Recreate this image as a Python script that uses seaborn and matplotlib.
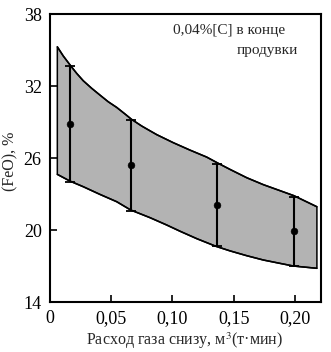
import numpy as np
import matplotlib
matplotlib.use("Agg")
import matplotlib.pyplot as plt
import seaborn as sns
import pandas as pd

# Data
pt_x = [0.0165, 0.066, 0.136, 0.199]
pt_mean = [28.83, 25.42, 22.08, 19.92]
pt_hi = [33.7, 29.2, 25.47, 22.78]
pt_lo = [24.03, 21.6, 18.67, 17.03]

upper_x = [0.006, 0.0109, 0.0169, 0.0218, 0.0272, 0.0341, 0.0408, 0.0476, 0.0545, 0.0613,
           0.0667, 0.0749, 0.0817, 0.0872, 0.1007, 0.1144, 0.128, 0.1367, 0.1471, 0.1607,
           0.1743, 0.1879, 0.1993, 0.218]
upper_y = [35.27, 34.5, 33.69, 33.06, 32.44, 31.81, 31.25, 30.69, 30.22, 29.67,
           29.22, 28.67, 28.27, 27.95, 27.28, 26.66, 26.08, 25.6, 25.05, 24.36,
           23.78, 23.28, 22.86, 21.94]
lower_x = [0.006, 0.0163, 0.0272, 0.0408, 0.0545, 0.0659, 0.0817, 0.0953, 0.1062, 0.1199,
           0.1356, 0.1471, 0.1607, 0.1743, 0.1879, 0.1988, 0.218]
lower_y = [24.64, 24.08, 23.61, 22.97, 22.36, 21.67, 21.03, 20.42, 19.9, 19.28,
           18.64, 18.26, 17.86, 17.5, 17.22, 17.0, 16.81]

x_ticks = [0, 0.05, 0.10, 0.15, 0.20]
x_ticklabels = ["0", "0,05", "0,10", "0,15", "0,20"]
y_ticks = [14, 20, 26, 32, 38]

sns.set_style("ticks")
plt.rcParams['font.family'] = ['Liberation Serif', 'DejaVu Serif']
plt.rcParams['mathtext.fontset'] = 'stix'

fig = plt.figure(figsize=(3.31, 3.52), dpi=100)
ax = fig.add_axes([0.151, 0.142, 0.819, 0.818])

poly_x = list(upper_x) + list(lower_x[::-1])
poly_y = list(upper_y) + list(lower_y[::-1])
ax.fill(poly_x, poly_y, facecolor="#b3b3b3", edgecolor="black", linewidth=1.1,
        joinstyle="round", zorder=1)

df_up = pd.DataFrame({"x": upper_x, "y": upper_y})
df_lo = pd.DataFrame({"x": lower_x, "y": lower_y})
sns.lineplot(data=df_up, x="x", y="y", ax=ax, color="black", linewidth=1.1, sort=False, zorder=2)
sns.lineplot(data=df_lo, x="x", y="y", ax=ax, color="black", linewidth=1.1, sort=False, zorder=2)

yerr = [np.array(pt_mean) - np.array(pt_lo), np.array(pt_hi) - np.array(pt_mean)]
ax.errorbar(pt_x, pt_mean, yerr=yerr, fmt="none", ecolor="black", elinewidth=1.5,
            capsize=3.5, capthick=1.3, zorder=3)
df_pt = pd.DataFrame({"x": pt_x, "y": pt_mean})
sns.scatterplot(data=df_pt, x="x", y="y", ax=ax, color="black", s=24, edgecolor="black", zorder=4)

ax.set_xlim(0, 0.2214)
ax.set_ylim(14, 38)
ax.set_xticks(x_ticks)
ax.set_xticklabels(x_ticklabels)
ax.set_yticks(y_ticks)
ax.tick_params(direction="in", length=5, width=1.2, labelsize=13, colors="black", pad=6,
               top=False, right=False)
for s in ax.spines.values():
    s.set_visible(True)
    s.set_linewidth(1.5)
    s.set_color("black")

ax.set_xlabel("Расход газа снизу, м$^3$(т·мин)", fontsize=11.5)
ax.set_ylabel("(FeO), %", fontsize=11.5)
ax.xaxis.set_label_coords(0.498, -0.10)
ax.yaxis.set_label_coords(-0.115, 0.49)

ax.text(0.455, 0.965, "0,04%[C] в конце", transform=ax.transAxes, fontsize=11,
        ha="left", va="top")
ax.text(0.69, 0.895, "продувки", transform=ax.transAxes, fontsize=11,
        ha="left", va="top")

fig.savefig("out.png", dpi=100)
